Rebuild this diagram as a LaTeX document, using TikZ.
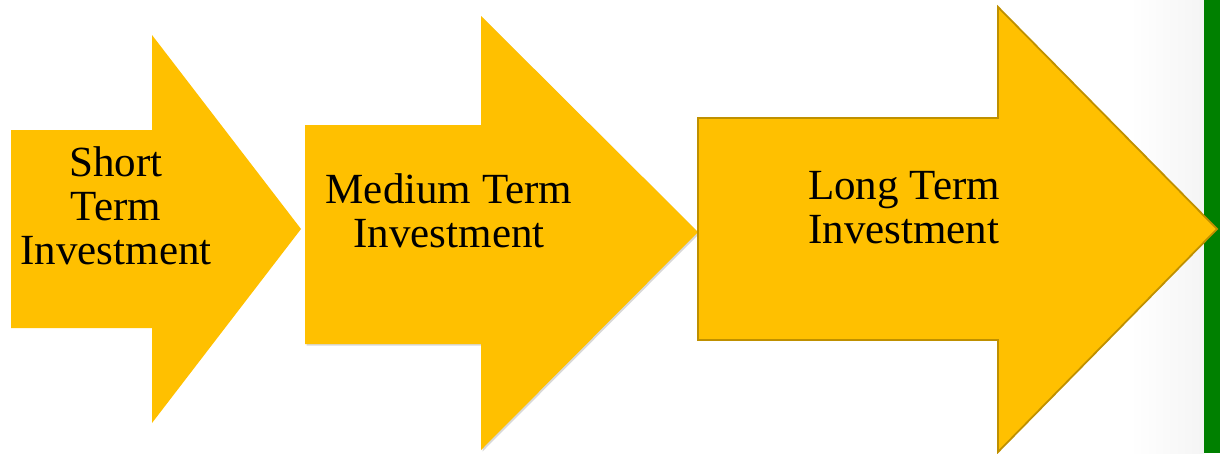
\documentclass[tikz,border=0pt]{standalone}
\usepackage{fontspec}
\setmainfont{Liberation Serif}
\usetikzlibrary{shadows}

\definecolor{gold}{RGB}{255,192,0}
\definecolor{darkgold}{RGB}{191,144,0}
\definecolor{barGreen}{RGB}{0,128,0}

\begin{document}
\begin{tikzpicture}[x=1pt, y=-1pt,
        stage/.style={fill=gold},
        caption/.style={font=\fontsize{43}{44}\selectfont, align=center, inner sep=0pt}]
        \useasboundingbox (0,0) rectangle (1220,453);
        \fill[white] (0,0) rectangle (1220,453);
        \shade[left color=white, right color=black!4] (1130,0) rectangle (1204,453);
        \fill[barGreen] (1204,0) rectangle (1220,453);

        % short term
        \fill[stage] (11,130) -- (152,130) -- (152,35) -- (301,229) -- (152,423) -- (152,328) -- (11,328) -- cycle;
        % medium term
        \fill[stage, drop shadow={shadow xshift=1.5pt, shadow yshift=-1.5pt, opacity=0.3, fill=gray}]
            (305,125) -- (481,125) -- (481,16) -- (698,232) -- (481,450) -- (481,344) -- (305,344) -- cycle;
        % long term
        \filldraw[stage, draw=darkgold, line width=1.8pt]
            (698,118) -- (998,118) -- (998,7) -- (1217,229) -- (998,452) -- (998,340) -- (698,340) -- cycle;

        \node[caption] (short) at (116,206) {Short\\Term\\Investment};
        \node[caption] (medium) at (449,211) {Medium Term\\Investment};
        \node[caption, align=left, anchor=west] (long) at (808,208) {Long Term\\Investment};
\end{tikzpicture}
\end{document}
